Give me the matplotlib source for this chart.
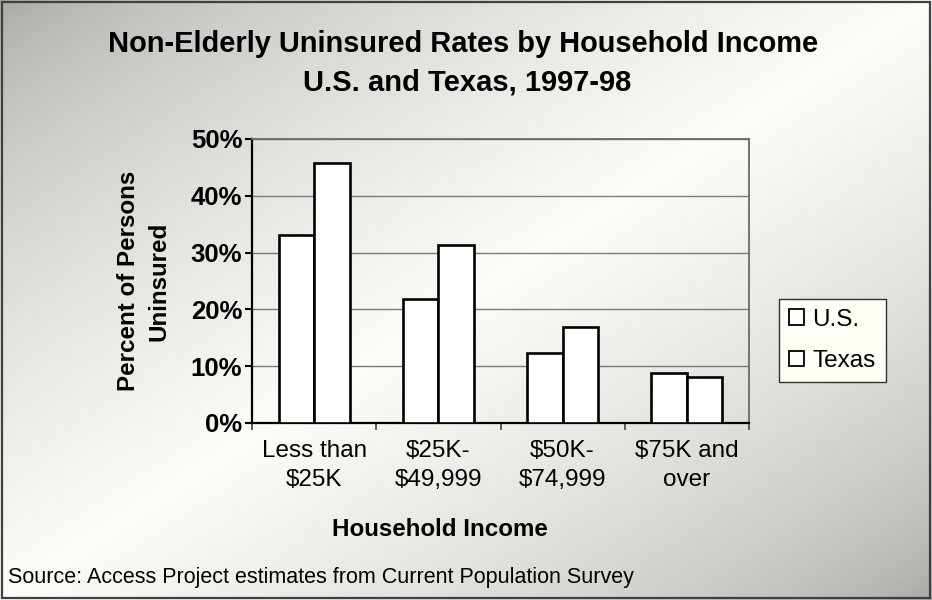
import numpy as np
import matplotlib
matplotlib.use("Agg")
import matplotlib.pyplot as plt
from matplotlib.patches import Rectangle
from matplotlib.ticker import FuncFormatter

categories = ["Less than\n$25K", "$25K-\n$49,999", "$50K-\n$74,999", "$75K and\nover"]
us_values = [33.1, 21.8, 12.4, 8.75]
texas_values = [45.7, 31.3, 16.9, 8.1]
series_names = ["U.S.", "Texas"]
y_ticks = [0, 10, 20, 30, 40, 50]
title_lines = ["Non-Elderly Uninsured Rates by Household Income", "U.S. and Texas, 1997-98"]

plt.rcParams['font.family'] = ['Liberation Sans', 'DejaVu Sans']
plt.rcParams['hatch.linewidth'] = 0.6

W, H = 932, 600
fig = plt.figure(figsize=(W / 100, H / 100), dpi=100)

# gradient background
bg = fig.add_axes([0, 0, 1, 1], zorder=-10)
xx, yy = np.meshgrid(np.linspace(0, 1, W), np.linspace(0, 1, H))
t = (xx + yy) / 2
w = (1 - np.abs(2 * t - 1)) ** 0.6
dark = np.array([136, 136, 132]) / 255
light = np.array([252, 252, 246]) / 255
img = dark[None, None, :] + (light - dark)[None, None, :] * w[..., None]
bg.imshow(img, extent=[0, 1, 0, 1], aspect='auto', origin='upper')
bg.add_patch(Rectangle((0, 0), 1, 1, transform=bg.transAxes, fill=False,
                       hatch='/' * 22, edgecolor=(1, 1, 1, 0.3), linewidth=0))
bg.add_patch(Rectangle((0.002, 0.003), 0.996, 0.994, transform=bg.transAxes,
                       fill=False, edgecolor='#404040', linewidth=1.6))
bg.set_xlim(0, 1); bg.set_ylim(0, 1)
bg.axis('off')

ax = fig.add_axes([252 / W, 1 - 423 / H, (749 - 252) / W, (423 - 139) / H])
ax.set_facecolor('none')
x = np.arange(len(categories))
bw = 0.285
ax.bar(x - bw / 2, us_values, bw, color='white', edgecolor='black', linewidth=1.9,
       label=series_names[0], zorder=3)
ax.bar(x + bw / 2, texas_values, bw, color='white', edgecolor='black', linewidth=1.9,
       label=series_names[1], zorder=3)

ax.set_xlim(-0.5, len(categories) - 0.5)
ax.set_ylim(0, 50)
ax.set_yticks(y_ticks)
ax.yaxis.set_major_formatter(FuncFormatter(lambda v, p: f"{v:.0f}%"))
ax.grid(axis='y', color='#7a7a7a', linewidth=1.0, zorder=1)
ax.set_axisbelow(True)

ax.set_xticks(x)
ax.set_xticklabels(categories, fontsize=17.5, linespacing=1.42)
ax.set_xticks(np.arange(-0.5, len(categories), 1), minor=True)
ax.tick_params(axis='x', which='major', length=0, pad=12)
ax.tick_params(axis='x', which='minor', length=5, width=1.3, color='#505050')
ax.tick_params(axis='y', length=5, width=1.5, pad=2, labelsize=18.5)
for lab in ax.get_yticklabels():
    lab.set_fontweight('bold')

for s in ['left', 'bottom']:
    ax.spines[s].set_color('black'); ax.spines[s].set_linewidth(1.6)
for s in ['top', 'right']:
    ax.spines[s].set_color('#6a6a6a'); ax.spines[s].set_linewidth(1.3)

fig.text(463 / W, 1 - 52 / H, title_lines[0], ha='center', va='baseline',
         fontsize=20.9, fontweight='bold')
fig.text(467 / W, 1 - 91 / H, title_lines[1], ha='center', va='baseline',
         fontsize=21, fontweight='bold')
fig.text(144 / W, 1 - 281 / H, "Percent of Persons\nUninsured", rotation=90, ha='center', va='center',
         fontsize=17.4, fontweight='bold', linespacing=1.4)
fig.text(440 / W, 1 - 530 / H, "Household Income", ha='center', va='center',
         fontsize=17.4, fontweight='bold')
fig.text(8 / W, 1 - 578 / H, "Source: Access Project estimates from Current Population Survey",
         ha='left', va='center', fontsize=15.5)

leg = fig.legend(loc='center', bbox_to_anchor=(832.5 / W, 1 - 340.5 / H), fontsize=17.5,
                 frameon=True, fancybox=False, edgecolor='#303030', facecolor='#fffff8',
                 framealpha=1, handlelength=0.6, handleheight=0.6, handletextpad=0.35,
                 labelspacing=0.8, borderpad=0.42)
leg.get_frame().set_linewidth(1.0)
for h in leg.legend_handles:
    h.set_linewidth(1.3)

fig.savefig("out.png", dpi=100)
